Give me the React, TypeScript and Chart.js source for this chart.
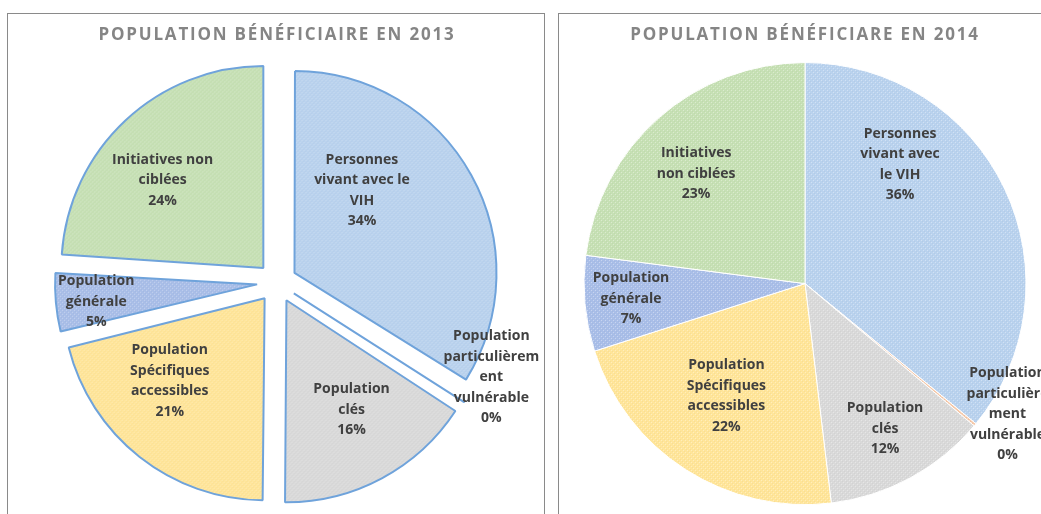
import React, { useEffect, useRef } from "react";
import { Chart, registerables } from "chart.js";

Chart.register(...registerables);

// ---- Data ----
const categories = [
  "Personnes vivant avec le VIH",
  "Population particulièrement vulnérable",
  "Population clés",
  "Population Spécifiques accessibles",
  "Population générale",
  "Initiatives non ciblées",
];
const values2013 = [34, 0.3, 16, 21, 5, 24];
const values2014 = [36, 0.2, 12, 22, 7, 23];
const title2013 = "POPULATION BÉNÉFICIAIRE EN 2013";
const title2014 = "POPULATION BÉNÉFICIARE EN 2014";

const labelLines2013 = [
  ["Personnes", "vivant avec le", "VIH"],
  ["Population", "particulièrem", "ent", "vulnérable"],
  ["Population", "clés"],
  ["Population", "Spécifiques", "accessibles"],
  ["Population", "générale"],
  ["Initiatives non", "ciblées"],
];
const labelLines2014 = [
  ["Personnes", "vivant avec", "le VIH"],
  ["Population", "particulière", "ment", "vulnérable"],
  ["Population", "clés"],
  ["Population", "Spécifiques", "accessibles"],
  ["Population", "générale"],
  ["Initiatives", "non ciblées"],
];

// label placement: angle shift from slice bisector (deg) and radius fraction
const labelShift2013 = [-18.3, -8.75, -2.2, 9.3, -0.9, -5.1];
const labelRadius2013 = [0.62, 1.16, 0.73, 0.72, 0.9, 0.76];
const labelShift2014 = [-26.1, -6.9, -0.5, 2.3, 0.3, -3.4];
const labelRadius2014 = [0.69, 1.09, 0.75, 0.62, 0.79, 0.7];

// ---- Styles ----
const fillColors = ["#b9d2ee", "#f6c8a8", "#d9d9d9", "#ffe599", "#a9bee8", "#c6e0b4"];

function makePattern(color: string): CanvasPattern | string {
  const c = document.createElement("canvas");
  c.width = 4;
  c.height = 4;
  const x = c.getContext("2d");
  if (!x) return color;
  x.fillStyle = color;
  x.fillRect(0, 0, 4, 4);
  x.fillStyle = "rgba(255,255,255,0.35)";
  x.fillRect(0, 0, 1, 1);
  x.fillRect(2, 2, 1, 1);
  x.fillStyle = "rgba(0,0,0,0.03)";
  x.fillRect(1, 1, 1, 1);
  x.fillRect(3, 3, 1, 1);
  return x.createPattern(c, "repeat") || color;
}

const spacingPlugin = {
  id: "titleSpacing",
  beforeDraw(chart: any) {
    (chart.ctx as any).letterSpacing = "1.8px";
  },
};

// keep every exploded slice at the same radius (Chart.js enlarges thin exploded slices)
const evenExplodePlugin = {
  id: "evenExplode",
  afterDatasetUpdate(chart: any, args: any) {
    const meta = args.meta || chart.getDatasetMeta(args.index);
    const R = meta.controller.outerRadius;
    meta.data.forEach((arc: any) => {
      const off = ((arc.options && arc.options.offset) || 0) / 4;
      if (!off) return;
      const fix = 1 - Math.sin(Math.min(Math.PI, arc.circumference || 0));
      arc.outerRadius = R - off * fix;
    });
  },
};

function makeLabelPlugin(lines: string[][], shifts: number[], radii: number[]) {
  return {
    id: "sliceLabels",
    afterDatasetsDraw(chart: any) {
      const ctx = chart.ctx;
      const meta = chart.getDatasetMeta(0);
      const R = meta.controller.outerRadius;
      const data: number[] = chart.data.datasets[0].data;
      const total = data.reduce((a, b) => a + b, 0);
      ctx.save();
      (ctx as any).letterSpacing = "0px";
      ctx.font = "bold 14px 'Open Sans'";
      ctx.fillStyle = "#404040";
      ctx.textAlign = "center";
      ctx.textBaseline = "middle";
      const lh = 20.5;
      meta.data.forEach((arc: any, i: number) => {
        const p = arc.getProps(["x", "y", "startAngle", "endAngle"], true);
        const mid = (p.startAngle + p.endAngle) / 2 + (shifts[i] * Math.PI) / 180;
        const r = R * radii[i];
        const cx = p.x + Math.cos(mid) * r;
        const cy = p.y + Math.sin(mid) * r;
        const txt = [...lines[i], Math.round((data[i] / total) * 100) + "%"];
        const h = (txt.length - 1) * lh;
        txt.forEach((t, k) => ctx.fillText(t, cx, cy - h / 2 + k * lh));
      });
      ctx.restore();
    },
  };
}

function PieChart(props: {
  values: number[];
  title: string;
  lines: string[][];
  shifts: number[];
  radii: number[];
  width: number;
  height: number;
  radius: number;
  offset: number;
  borderColor: string;
  borderWidth: number;
  padding: { left: number; right: number; top: number; bottom: number };
}) {
  const ref = useRef<HTMLCanvasElement>(null);
  useEffect(() => {
    if (!ref.current) return;
    const chart = new Chart(ref.current, {
      type: "pie",
      data: {
        labels: categories,
        datasets: [
          {
            data: props.values,
            backgroundColor: fillColors.map(makePattern) as any,
            borderColor: props.borderColor,
            borderWidth: props.borderWidth,
            offset: props.offset,
            radius: props.radius,
            clip: false as any,
          } as any,
        ],
      },
      options: {
        animation: false,
        responsive: false,
        radius: props.radius,
        layout: { padding: props.padding },
        plugins: {
          legend: { display: false },
          tooltip: { enabled: false },
          title: {
            display: true,
            text: props.title,
            color: "#858585",
            font: { family: "'Open Sans'", size: 17, weight: "bold" },
            padding: { top: 11, bottom: 10 },
          },
        },
      } as any,
      plugins: [
        spacingPlugin,
        evenExplodePlugin,
        makeLabelPlugin(props.lines, props.shifts, props.radii),
      ],
    });
    return () => chart.destroy();
  }, []);
  return (
    <canvas
      ref={ref}
      width={props.width}
      height={props.height}
      style={{ display: "block", width: props.width, height: props.height }}
    />
  );
}

export default function App() {
  return (
    <div
      style={{
        position: "fixed",
        left: 0,
        top: 0,
        width: 1041,
        height: 514,
        overflow: "hidden",
        background: "#ffffff",
      }}
    >
      <div
        style={{
          position: "absolute",
          left: 7,
          top: 13,
          width: 538,
          height: 560,
          border: "1px solid #8a8a8a",
          boxSizing: "border-box",
        }}
      />
      <div
        style={{
          position: "absolute",
          left: 558,
          top: 13,
          width: 560,
          height: 560,
          border: "1px solid #8a8a8a",
          boxSizing: "border-box",
        }}
      />
      <div style={{ position: "absolute", left: 8, top: 14 }}>
        <PieChart
          values={values2013}
          title={title2013}
          lines={labelLines2013}
          shifts={labelShift2013}
          radii={labelRadius2013}
          width={535}
          height={500}
          radius={202}
          offset={80}
          borderColor="#6fa3db"
          borderWidth={2}
          padding={{ left: 3, right: 0, top: 0, bottom: 4.2 }}
        />
      </div>
      <div style={{ position: "absolute", left: 559, top: 14 }}>
        <PieChart
          values={values2014}
          title={title2014}
          lines={labelLines2014}
          shifts={labelShift2014}
          radii={labelRadius2014}
          width={482}
          height={500}
          radius={221}
          offset={0}
          borderColor="#ffffff"
          borderWidth={1}
          padding={{ left: 10, right: 0, top: 0, bottom: 2.2 }}
        />
      </div>
    </div>
  );
}
